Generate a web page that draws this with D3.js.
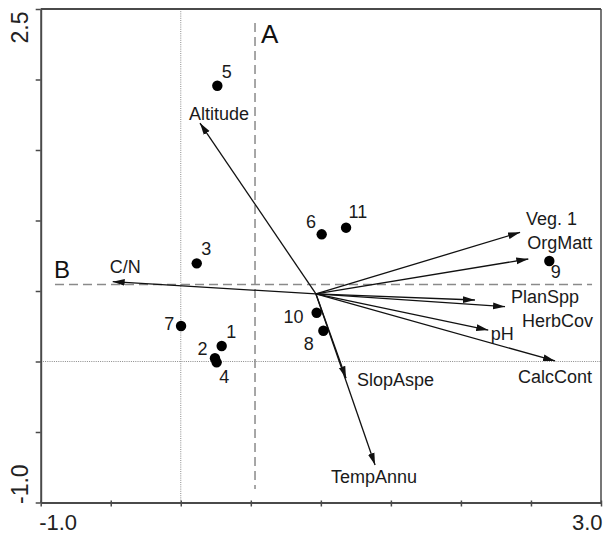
<!DOCTYPE html>
<html>
<head>
<meta charset="utf-8">
<script src="https://cdn.jsdelivr.net/npm/d3@7/dist/d3.min.js"></script>
<style>
  html, body { margin: 0; padding: 0; background: #fff; }
  svg { display: block; }
  text { font-family: "Liberation Sans", Arial, sans-serif; }
</style>
</head>
<body>
<svg id="chart" width="603" height="535"></svg>
<script>
// ---------- data ----------
const siteNames = ["1","2","3","4","5","6","7","8","9","10","11"];
const siteX = [0.292, 0.244, 0.114, 0.256, 0.261, 1.006, 0.002, 1.018, 2.631, 0.970, 1.180];
const siteY = [0.110, 0.023, 0.696, -0.006, 1.956, 0.902, 0.252, 0.218, 0.713, 0.346, 0.949];

const envNames = ["Altitude","C/N","Veg. 1","OrgMatt","PlanSpp","HerbCov","pH","CalcCont","SlopAspe","TempAnnu"];
const envX = [0.137, -0.486, 2.422, 2.481, 2.100, 2.315, 2.195, 2.672, 1.180, 1.387];
const envY = [1.691, 0.566, 0.916, 0.727, 0.436, 0.389, 0.223, 0.004, -0.119, -0.734];
const arrowOrigin = [0.965, 0.479];

const refLineA = { label: "A", x: 0.530, y0: -0.904, y1: 2.401 };
const refLineB = { label: "B", y: 0.546, x0: -0.898, x1: 2.936 };

const xDomain = [-1, 3];
const yDomain = [-1, 2.5];
const xTickValues = [-1, -0.5, 0, 0.5, 1, 1.5, 2, 2.5, 3];
const yTickValues = [-1, -0.5, 0, 0.5, 1, 1.5, 2, 2.5];
const xTickLabels = ["-1.0", "", "", "", "", "", "", "", "3.0"];
const yTickLabels = ["-1.0", "", "", "", "", "", "", "2.5"];

// ---------- layout / style (label placement relative to mark, px) ----------
const envLabelPos = {
  "Altitude": [-11, -3], "C/N": [-3, -8.7], "Veg. 1": [6, -7.3], "OrgMatt": [-1, -10],
  "PlanSpp": [36, 3], "HerbCov": [17, 20], "pH": [2.5, 10], "CalcCont": [-37, 22],
  "SlopAspe": [11, 8], "TempAnnu": [-44, 18]
};
const siteLabelPos = {
  "1": [4.5, -7.7, "start"], "2": [-7.5, -3.3, "end"], "3": [4.5, -8.3, "start"],
  "4": [2.5, 21, "start"], "5": [4.5, -7.4, "start"], "6": [-5.7, -6, "end"],
  "7": [-6.7, 4, "end"], "8": [-9.6, 19.3, "end"], "9": [1.4, 17.3, "start"],
  "10": [-13, 10.6, "end"], "11": [2.5, -9.4, "start"]
};

const L = 40.7, R = 601, T = 9, B = 502.5;
const x = d3.scaleLinear().domain(xDomain).range([L, R]);
const y = d3.scaleLinear().domain(yDomain).range([B, T]);

const svg = d3.select("#chart");
const ink = "#111";

// arrow marker
svg.append("defs").append("marker")
  .attr("id", "arrowhead")
  .attr("markerUnits", "userSpaceOnUse")
  .attr("viewBox", "0 0 12 8")
  .attr("refX", 12).attr("refY", 4)
  .attr("markerWidth", 12).attr("markerHeight", 8)
  .attr("orient", "auto")
  .append("path").attr("d", "M0,0.6 L12,4 L0,7.4 Z").attr("fill", ink);

// dotted zero lines
svg.append("line")
  .attr("x1", x(0)).attr("x2", x(0)).attr("y1", y(yDomain[1])).attr("y2", y(yDomain[0]))
  .attr("stroke", "#8a8a8a").attr("stroke-width", 1).attr("stroke-dasharray", "1,1.2");
svg.append("line")
  .attr("x1", x(xDomain[0])).attr("x2", x(xDomain[1])).attr("y1", y(0)).attr("y2", y(0))
  .attr("stroke", "#8a8a8a").attr("stroke-width", 1).attr("stroke-dasharray", "1,1.2");

// dashed reference lines A and B
svg.append("line")
  .attr("x1", x(refLineA.x)).attr("x2", x(refLineA.x))
  .attr("y1", y(refLineA.y1)).attr("y2", y(refLineA.y0))
  .attr("stroke", "#8a8a8a").attr("stroke-width", 1.5).attr("stroke-dasharray", "9,5");
svg.append("text")
  .attr("x", x(refLineA.x) + 6).attr("y", y(refLineA.y1) + 20)
  .attr("font-size", 26).attr("fill", ink).text(refLineA.label);

svg.append("line")
  .attr("x1", x(refLineB.x0)).attr("x2", x(refLineB.x1))
  .attr("y1", y(refLineB.y)).attr("y2", y(refLineB.y))
  .attr("stroke", "#8a8a8a").attr("stroke-width", 1.5).attr("stroke-dasharray", "9,5");
svg.append("text")
  .attr("x", x(refLineB.x0) - 1).attr("y", y(refLineB.y) - 7)
  .attr("font-size", 24).attr("fill", ink).text(refLineB.label);

// env arrows
const envData = envNames.map((n, i) => ({ name: n, x: envX[i], y: envY[i] }));
svg.append("g").selectAll("line").data(envData).join("line")
  .attr("x1", x(arrowOrigin[0])).attr("y1", y(arrowOrigin[1]))
  .attr("x2", d => x(d.x)).attr("y2", d => y(d.y))
  .attr("stroke", ink).attr("stroke-width", 1.3)
  .attr("marker-end", "url(#arrowhead)");
svg.append("g").selectAll("text").data(envData).join("text")
  .attr("x", d => x(d.x) + envLabelPos[d.name][0])
  .attr("y", d => y(d.y) + envLabelPos[d.name][1])
  .attr("font-size", 18).attr("fill", "#1a1a1a")
  .text(d => d.name);

// sites
const siteData = siteNames.map((n, i) => ({ name: n, x: siteX[i], y: siteY[i] }));
svg.append("g").selectAll("circle").data(siteData).join("circle")
  .attr("cx", d => x(d.x)).attr("cy", d => y(d.y)).attr("r", 5.2)
  .attr("fill", "#000");
svg.append("g").selectAll("text").data(siteData).join("text")
  .attr("x", d => x(d.x) + siteLabelPos[d.name][0])
  .attr("y", d => y(d.y) + siteLabelPos[d.name][1])
  .attr("text-anchor", d => siteLabelPos[d.name][2])
  .attr("font-size", 18).attr("fill", "#1a1a1a")
  .text(d => d.name);

// frame
const frameColor = "#4a4a4a";
svg.append("line").attr("x1", L).attr("x2", R).attr("y1", T).attr("y2", T)
  .attr("stroke", frameColor).attr("stroke-width", 2);
svg.append("line").attr("x1", R).attr("x2", R).attr("y1", T).attr("y2", B)
  .attr("stroke", frameColor).attr("stroke-width", 1.5);

// axes
const xAxis = d3.axisBottom(x).tickValues(xTickValues)
  .tickFormat((d, i) => xTickLabels[i]).tickSizeInner(4).tickSizeOuter(0).tickPadding(12);
const gx = svg.append("g").attr("transform", `translate(0,${B})`).call(xAxis);
gx.select(".domain").attr("stroke", frameColor).attr("stroke-width", 2);
gx.selectAll(".tick line").attr("stroke", frameColor).attr("stroke-width", 1.5).attr("y1", -2);
gx.selectAll(".tick text")
  .attr("font-size", 22).attr("fill", "#222")
  .attr("font-family", "'Liberation Sans', Arial, sans-serif")
  .attr("dy", null).attr("y", 27.5)
  .attr("text-anchor", (d, i) => i === 0 ? "start" : "end")
  .attr("dx", (d, i) => i === 0 ? -2 : 1);

const yAxis = d3.axisLeft(y).tickValues(yTickValues)
  .tickFormat((d, i) => yTickLabels[i]).tickSizeInner(5).tickSizeOuter(0);
const gy = svg.append("g").attr("transform", `translate(${L},0)`).call(yAxis);
gy.select(".domain").attr("stroke", frameColor).attr("stroke-width", 2);
gy.selectAll(".tick line").attr("stroke", frameColor).attr("stroke-width", 1.5);
gy.selectAll(".tick text")
  .attr("font-size", 23).attr("fill", "#222")
  .attr("font-family", "'Liberation Sans', Arial, sans-serif")
  .attr("x", null).attr("dy", null)
  .attr("text-anchor", (d, i) => i === 0 ? "start" : "end")
  .attr("transform", function(d, i) {
    const ty = i === 0 ? (B - y(d)) + 1 : (T - y(d)) + 2;
    return `translate(${28 - L},${ty}) rotate(-90)`;
  });
</script>
</body>
</html>
